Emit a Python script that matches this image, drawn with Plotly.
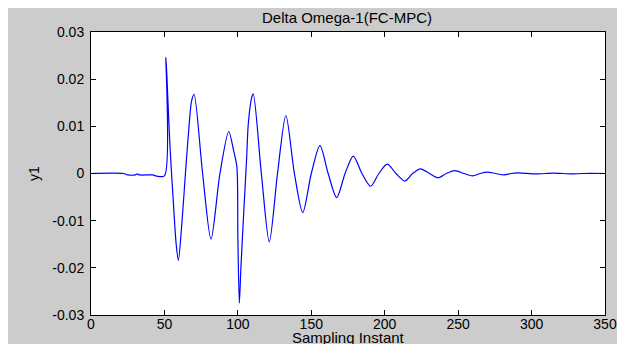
import plotly.graph_objects as go

# Sampling instants and response values
sample_x = [0, 22, 25, 30, 31.5, 33, 42, 44, 50,
            51, 52.2, 53.8, 56, 58, 59.5, 61.7, 64.3, 67, 68.5, 70.2,
            76, 81.7, 87.8, 93.8, 97, 99.3,
            100, 101, 102, 103.6, 104.8, 106, 107.1, 109.4, 110.5,
            116, 121.4, 127, 132.7, 138.5, 144.2, 150, 155.9, 161.5, 167.3,
            173, 178.6, 184.5, 190.4, 196, 201.7, 207.7, 213.8, 219, 224.4,
            230.5, 236.4, 242, 247.8, 254, 259.8, 265, 269.8, 275.5, 281.2,
            286, 290.9, 303, 315, 327, 335, 350]
y1 = [0, 0, -0.0003, -0.0003, -0.0001, -0.0003, -0.0003, -0.0005, -0.0005,
      0.0246, 0.0168, 0.0056, -0.0057, -0.0150, -0.0184, -0.0113, 0.0, 0.0110, 0.0154, 0.0168,
      0.0, -0.0139, 0.0, 0.0089, 0.0050, 0.0015,
      -0.0135, -0.0275, -0.0205, -0.0106, -0.0036, 0.0034, 0.0105, 0.0161, 0.0169,
      0.0, -0.0145, 0.0, 0.0123, 0.0, -0.0083, 0.0, 0.0059, 0.0, -0.0051,
      0.0, 0.0037, 0.0, -0.0027, 0.0, 0.0020, 0.0, -0.0016, 0.0, 0.0010,
      0.0, -0.0009, 0.0, 0.0006, 0.0, -0.0005, 0.0, 0.0003, 0.0, -0.0003,
      0.0, 0.00015, -0.0001, 0.0001, -0.0001, 0, 0]

x_ticks = [0, 50, 100, 150, 200, 250, 300, 350]
y_ticks = [-0.03, -0.02, -0.01, 0, 0.01, 0.02, 0.03]
y_tick_labels = ["-0.03", "-0.02", "-0.01", "0", "0.01", "0.02", "0.03"]
x_title = "Sampling Instant"

fig = go.Figure()
fig.add_trace(go.Scatter(
    x=sample_x, y=y1, mode="lines",
    line=dict(color="#0000ff", width=1.2, shape="spline", smoothing=0.8),
    showlegend=False,
))

font_family = "Arial, Liberation Sans, sans-serif"

fig.update_layout(
    width=625, height=344,
    margin=dict(l=83, r=28, t=24, b=37, autoexpand=False),
    paper_bgcolor="#cccccc",
    plot_bgcolor="#ffffff",
    font=dict(family=font_family, size=14, color="#000000"),
    title=dict(text="Delta Omega-1(FC-MPC)", x=0.5424, xanchor="center",
               y=0.971, yanchor="middle", font=dict(size=15, color="#000000"),
               automargin=False),
    xaxis=dict(
        range=[0, 350], tickvals=x_ticks, ticks="inside", ticklen=5,
        tickcolor="#000000", showline=True, linecolor="#000000", linewidth=1,
        mirror="ticks", showgrid=False, zeroline=False, automargin=False,
        ticklabelstandoff=-4,
        tickfont=dict(size=14),
    ),
    yaxis=dict(
        range=[-0.03, 0.03], tickvals=y_ticks, ticktext=y_tick_labels,
        ticks="inside", ticklen=5, tickcolor="#000000", showline=True,
        linecolor="#000000", linewidth=1, mirror="ticks", showgrid=False,
        zeroline=False, automargin=False, ticklabelstandoff=3,
        title=dict(text="y1", standoff=9, font=dict(size=14)),
        tickfont=dict(size=14),
    ),
    annotations=[
        dict(text=x_title, xref="paper", yref="paper", x=0.5, y=-12 / 283,
             xanchor="center", yanchor="top", showarrow=False,
             font=dict(size=15, color="#000000")),
    ],
)

fig.write_html("out.html")
